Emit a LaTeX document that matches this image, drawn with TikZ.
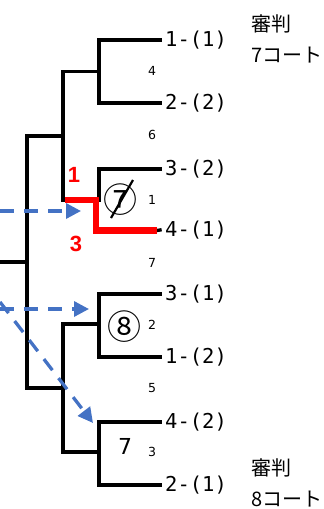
\documentclass[tikz,border=0pt]{standalone}
\usepackage{fontspec}
\setmainfont{DejaVu Sans}
\newfontfamily\labfont{DejaVu Sans Mono}
\newfontfamily\jpfont{Noto Sans CJK JP}
\newfontfamily\redfont{Liberation Sans}
\usetikzlibrary{arrows.meta}
\definecolor{winred}{RGB}{255,0,0}
\definecolor{arrblue}{RGB}{68,114,196}
\tikzset{
  br/.style={line width=3.3pt, line cap=rect, line join=miter},
  win/.style={line width=6.5pt, color=winred, line join=miter},
  entry/.style={anchor=west, inner sep=0pt, font=\labfont\fontsize{20.5}{22}\selectfont},
  small/.style={inner sep=0pt, font=\fontsize{12.5}{13}\selectfont},
  redlab/.style={inner sep=0pt, text=winred, font=\redfont\bfseries\fontsize{22}{24}\selectfont},
  circ/.style={inner sep=0pt, font=\jpfont\fontsize{34}{36}\selectfont},
  court/.style={anchor=west, inner sep=0pt, align=left, font=\jpfont\fontsize{20}{31}\selectfont},
  move/.style={line width=3.3pt, color=arrblue, dash pattern=on 14pt off 10pt, -{Triangle[length=15pt,width=15pt]}},
}
\begin{document}
\begin{tikzpicture}[x=1pt,y=-1pt]
\useasboundingbox (0,0) rectangle (324,509);
% entry labels
\node[entry] (t1) at (165,40) {1-(1)};
\node[entry] (t2) at (165,103) {2-(2)};
\node[entry] (t3) at (165,169) {3-(2)};
\node[entry] (t4) at (165,230) {4-(1)};
\node[entry] (t5) at (165,294) {3-(1)};
\node[entry] (t6) at (165,357) {1-(2)};
\node[entry] (t7) at (165,422) {4-(2)};
\node[entry] (t8) at (165,485) {2-(1)};
% line ends
\coordinate (e1) at (160,40);
\coordinate (e2) at (160,103);
\coordinate (e3) at (160,169);
\coordinate (e4) at (160,230);
\coordinate (e5) at (160,294);
\coordinate (e6) at (160,357);
\coordinate (e7) at (160,422);
\coordinate (e8) at (160,485);
% joins
\coordinate (m4) at (99,71.5);
\coordinate (m1) at (99,200);
\coordinate (m2) at (99,324);
\coordinate (m3) at (99,452);
\coordinate (s1) at (63,136);
\coordinate (s2) at (63,388);
\coordinate (root) at (27,262);
\coordinate (lead) at (0,262);
% bracket
\draw[br] (e1) -| (m4) |- (e2);
\draw[br] (e3) -| (m1);
\draw[br] (m4) -| (s1) |- (m1);
\draw[br] (e5) -| (m2) |- (e6);
\draw[br] (e7) -| (m3) |- (e8);
\draw[br] (s1) -| (root) |- (s2);
\draw[br] (m2) -| (s2) |- (m3);
\draw[br] (root) -- (lead);
% winner path
\coordinate (r0) at (64.5,200);
\coordinate (r1) at (96,200);
\coordinate (r2) at (96,230.5);
\coordinate (r3) at (157,230.5);
\draw[br] (r3) -- (e4);
\draw[win] (r0) -- (r1) -- (r2) -- (r3);
% match numbers
\node[small] (n4) at (152,71) {4};
\node[small] (n6) at (152,135) {6};
\node[small] (n1) at (152,200) {1};
\node[small] (n7) at (152,263) {7};
\node[small] (n2) at (152,325) {2};
\node[small] (n5) at (152,388) {5};
\node[small] (n3) at (152,452) {3};
% courts
\node[circ] (c7) at (120,200) {⑦};
\draw[line width=2.2pt] ([shift={(-9,18)}]c7.center) -- ([shift={(13,-20)}]c7.center);
\node[circ] (c8) at (124,327) {⑧};
\node[inner sep=0pt, font=\fontsize{22}{24}\selectfont] (c9) at (125,446) {7};
% red scores
\node[redlab] (w1) at (74,175) {1};
\node[redlab] (w3) at (76,244) {3};
% referee notes
\node[court] (ref7) at (251,39) {審判\\7コート};
\node[court] (ref8) at (251,483) {審判\\8コート};
% move arrows
\coordinate (a1) at (0,211);
\coordinate (a2) at (0,309);
\coordinate (a3) at (0,302);
\coordinate (h1) at (81,211);
\coordinate (h2) at (89,309);
\coordinate (h3) at (93,423);
\draw[move] (a1) -- (h1);
\draw[move] (a2) -- (h2);
\draw[move] (a3) -- (h3);
\end{tikzpicture}
\end{document}
